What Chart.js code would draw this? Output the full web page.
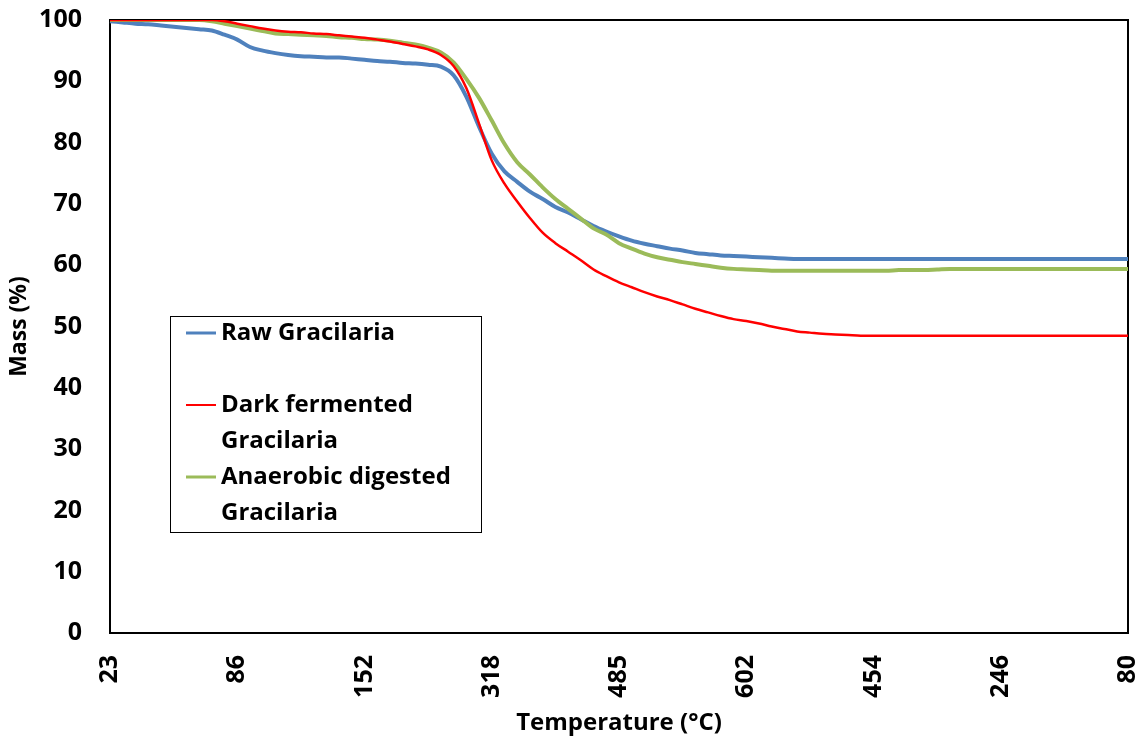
<!DOCTYPE html>
<html>
<head>
<meta charset="utf-8">
<script src="https://cdn.jsdelivr.net/npm/chart.js@4"></script>
<style>
html, body { margin: 0; padding: 0; background: #fff; overflow: hidden; }
</style>
</head>
<body>
<canvas id="canvas" width="1139" height="742"></canvas>
<script>
// tick labels shown every 10th category (temperatures from the original export)
var tickLabels = ['23', '86', '152', '318', '485', '602', '454', '246', '80'];

var rawMass = [
    99.8, 99.6, 99.4, 99.3, 99.1, 98.9, 98.7, 98.5, 98.3, 97.6,
    96.8, 95.6, 95.0, 94.6, 94.3, 94.1, 94.0, 93.9, 93.9, 93.7,
    93.5, 93.3, 93.2, 93.0, 92.9, 92.7, 92.4, 91.0, 87.5, 82.6,
    78.2, 75.3, 73.6, 72.0, 70.8, 69.5, 68.6, 67.5, 66.4, 65.5,
    64.7, 64.0, 63.5, 63.1, 62.7, 62.4, 62.0, 61.8, 61.6, 61.5,
    61.4, 61.3, 61.2, 61.1, 61.0, 61.0, 61.0, 61.0, 61.0, 61.0,
    61.0, 61.0, 61.0, 61.0, 61.0, 61.0, 61.0, 61.0, 61.0, 61.0,
    61.0, 61.0, 61.0, 61.0, 61.0, 61.0, 61.0, 61.0, 61.0, 61.0,
    61.0
];
var darkMass = [
    100, 100, 100, 100, 100, 100, 100, 100, 100, 99.8,
    99.4, 99.0, 98.6, 98.3, 98.1, 98.0, 97.8, 97.7, 97.5, 97.3,
    97.1, 96.8, 96.5, 96.1, 95.7, 95.2, 94.3, 92.5, 88.9, 83.1,
    77.1, 73.3, 70.4, 67.7, 65.3, 63.6, 62.2, 60.8, 59.3, 58.2,
    57.2, 56.4, 55.6, 54.9, 54.3, 53.6, 52.9, 52.3, 51.7, 51.2,
    50.9, 50.5, 50.0, 49.6, 49.2, 49.0, 48.8, 48.7, 48.6, 48.5,
    48.5, 48.5, 48.5, 48.5, 48.5, 48.5, 48.5, 48.5, 48.5, 48.5,
    48.5, 48.5, 48.5, 48.5, 48.5, 48.5, 48.5, 48.5, 48.5, 48.5,
    48.5
];
var digestedMass = [
    100, 100, 100, 100, 100, 100, 100, 100, 99.8, 99.4,
    99.0, 98.6, 98.2, 97.8, 97.7, 97.6, 97.5, 97.4, 97.2, 97.1,
    96.9, 96.8, 96.6, 96.3, 96.0, 95.5, 94.7, 93.1, 90.4, 87.3,
    83.6, 79.8, 76.8, 74.8, 72.7, 70.8, 69.2, 67.6, 66.0, 65.0,
    63.6, 62.7, 61.9, 61.3, 60.9, 60.5, 60.2, 59.9, 59.6, 59.4,
    59.3, 59.2, 59.1, 59.1, 59.1, 59.1, 59.1, 59.1, 59.1, 59.1,
    59.1, 59.1, 59.2, 59.2, 59.2, 59.3, 59.4, 59.4, 59.4, 59.4,
    59.4, 59.4, 59.4, 59.4, 59.4, 59.4, 59.4, 59.4, 59.4, 59.4,
    59.4
];

var legendLines = [
    ['Raw Gracilaria'],
    ['Dark fermented', 'Gracilaria'],
    ['Anaerobic digested', 'Gracilaria']
];

var STEP = 10;
var categories = [];
for (var i = 0; i < rawMass.length; i++) {
    categories.push(i % STEP == 0 ? tickLabels[i / STEP] : '');
}

var FONT = '"Open Sans", Lato, sans-serif';

// plot area frame (Excel style box)
var framePlugin = {
    id: 'frame',
    beforeDatasetsDraw: function (chart) {
        var a = chart.chartArea, ctx = chart.ctx;
        ctx.save();
        ctx.strokeStyle = '#000';
        ctx.lineWidth = 2;
        ctx.strokeRect(a.left, a.top, a.right - a.left, a.bottom - a.top);
        ctx.restore();
    }
};

// legend inside the plot, two text rows per entry
var boxLegend = {
    id: 'boxLegend',
    afterDraw: function (chart, args, opts) {
        var ctx = chart.ctx;
        ctx.save();
        ctx.fillStyle = '#fff';
        ctx.fillRect(opts.x, opts.y, opts.w, opts.h);
        ctx.strokeStyle = '#000';
        ctx.lineWidth = 1;
        ctx.strokeRect(opts.x + 0.5, opts.y + 0.5, opts.w, opts.h);
        ctx.font = opts.font;
        ctx.textBaseline = 'middle';
        chart.data.datasets.forEach(function (ds, k) {
            var y0 = opts.y + opts.first + k * 2 * opts.lineH;
            ctx.strokeStyle = ds.borderColor;
            ctx.lineWidth = opts.sampleWidths[k];
            ctx.beginPath();
            ctx.moveTo(opts.x + 16, y0);
            ctx.lineTo(opts.x + 46, y0);
            ctx.stroke();
            ctx.fillStyle = '#000';
            legendLines[k].forEach(function (t, j) {
                ctx.fillText(t, opts.x + 51, y0 + j * opts.lineH);
            });
        });
        ctx.restore();
    }
};

var ctx = document.getElementById('canvas').getContext('2d');
var pChart = new Chart(ctx, {
    type: 'line',
    data: {
        labels: categories,
        datasets: [{
            label: legendLines[0].join(' '),
            data: rawMass,
            borderColor: '#4F81BD',
            borderWidth: 4,
            order: 2
        }, {
            label: legendLines[1].join(' '),
            data: darkMass,
            borderColor: '#FF0000',
            borderWidth: 2.5,
            order: 0
        }, {
            label: legendLines[2].join(' '),
            data: digestedMass,
            borderColor: '#9BBB59',
            borderWidth: 4,
            order: 1
        }]
    },
    options: {
        responsive: false,
        animation: false,
        layout: { padding: { top: 20, right: 11, bottom: 0, left: 0 } },
        elements: {
            point: { radius: 0 },
            line: { cubicInterpolationMode: 'monotone' }
        },
        plugins: {
            legend: { display: false },
            tooltip: { enabled: false },
            boxLegend: {
                x: 170, y: 316, w: 311, h: 216,
                first: 17, lineH: 36,
                sampleWidths: [3, 2, 3],
                font: 'bold 24px ' + FONT
            }
        },
        scales: {
            x: {
                grid: { display: false, drawTicks: false },
                border: { display: false },
                ticks: {
                    autoSkip: false,
                    minRotation: 90,
                    maxRotation: 90,
                    padding: 22,
                    color: '#000',
                    font: { family: FONT, size: 25, weight: 'bold' }
                },
                title: {
                    display: true,
                    text: 'Temperature (°C)',
                    color: '#000',
                    font: { family: FONT, size: 24, weight: 'bold' },
                    padding: { top: 0, bottom: 4 }
                },
                afterFit: function (s) {
                    s.height = 109;
                    s.paddingLeft = 0;
                    s.paddingRight = 0;
                }
            },
            y: {
                min: 0,
                max: 100,
                grid: { display: false, drawTicks: false },
                border: { display: false },
                ticks: {
                    stepSize: 10,
                    padding: 28,
                    color: '#000',
                    font: { family: FONT, size: 25, weight: 'bold' }
                },
                title: {
                    display: true,
                    text: 'Mass (%)',
                    color: '#000',
                    font: { family: FONT, size: 23, weight: 'bold' },
                    padding: { top: 6, bottom: 0 }
                },
                afterFit: function (s) {
                    s.width = 110;
                    s.paddingTop = 0;
                    s.paddingBottom = 0;
                }
            }
        }
    },
    plugins: [framePlugin, boxLegend]
});
</script>
</body>
</html>
